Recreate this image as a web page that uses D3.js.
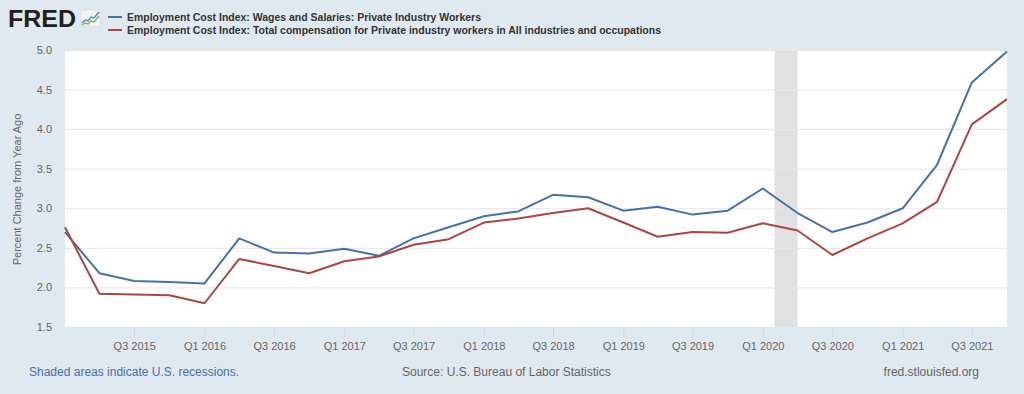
<!DOCTYPE html>
<html lang="en">
<head>
  <meta charset="UTF-8">
  <title>FRED - Employment Cost Index</title>
  <script src="https://d3js.org/d3.v7.min.js"></script>
  <style>
    html, body { margin: 0; padding: 0; background: #e1e9f0; }
    svg { display: block; font-family: "Liberation Sans", Arial, sans-serif; }
  </style>
</head>
<body>
<svg></svg>

<script>
  // quarterly observations, Q1 2015 .. Q4 2021
  const quarters = ['2015-01-01', '2015-04-01', '2015-07-01', '2015-10-01',
    '2016-01-01', '2016-04-01', '2016-07-01', '2016-10-01',
    '2017-01-01', '2017-04-01', '2017-07-01', '2017-10-01',
    '2018-01-01', '2018-04-01', '2018-07-01', '2018-10-01',
    '2019-01-01', '2019-04-01', '2019-07-01', '2019-10-01',
    '2020-01-01', '2020-04-01', '2020-07-01', '2020-10-01',
    '2021-01-01', '2021-04-01', '2021-07-01', '2021-10-01']

  // Wages and Salaries: Private Industry Workers
  const wages = [2.70, 2.18, 2.08, 2.07, 2.05, 2.62, 2.44, 2.43,
    2.49, 2.40, 2.62, 2.76, 2.90, 2.96, 3.17, 3.14,
    2.97, 3.02, 2.92, 2.97, 3.25, 2.94, 2.70, 2.82,
    3.00, 3.55, 4.59, 4.98]

  // Total compensation for Private industry workers
  const compensation = [2.76, 1.92, 1.91, 1.90, 1.80, 2.36, 2.27, 2.18,
    2.33, 2.39, 2.54, 2.61, 2.82, 2.87, 2.94, 3.00,
    2.82, 2.64, 2.70, 2.69, 2.81, 2.72, 2.41, 2.62,
    2.81, 3.08, 4.06, 4.38]

  const seriesNames = [
    'Employment Cost Index: Wages and Salaries: Private Industry Workers',
    'Employment Cost Index: Total compensation for Private industry workers in All industries and occupations'
  ]
  const seriesColors = ['#4572a7', '#aa4643']

  const yTicks = [1.5, 2.0, 2.5, 3.0, 3.5, 4.0, 4.5, 5.0]
  const xTicks = ['2015-07-01', '2016-01-01', '2016-07-01', '2017-01-01', '2017-07-01',
    '2018-01-01', '2018-07-01', '2019-01-01', '2019-07-01', '2020-01-01',
    '2020-07-01', '2021-01-01', '2021-07-01']

  const recessions = [['2020-02-01', '2020-04-01']]

  const width = 1024
  const height = 394
  const plot = { left: 65, right: 1007, top: 50, bottom: 327 }

  const parse = d3.timeParse('%Y-%m-%d')

  const svg = d3.select('svg')
    .attr('width', width)
    .attr('height', height)

  svg.append('rect')
    .attr('width', width)
    .attr('height', height)
    .attr('fill', '#e1e9f0')

  const x = d3.scaleTime()
    .domain([parse(quarters[0]), parse(quarters[quarters.length - 1])])
    .range([plot.left, plot.right])

  const y = d3.scaleLinear()
    .domain([1.5, 5.0])
    .range([plot.bottom, plot.top])

  // plot background
  svg.append('rect')
    .attr('x', plot.left)
    .attr('y', plot.top)
    .attr('width', plot.right - plot.left)
    .attr('height', plot.bottom - plot.top)
    .attr('fill', '#ffffff')

  // recession bars
  svg.append('g')
    .selectAll('rect')
    .data(recessions)
    .join('rect')
    .attr('x', d => x(parse(d[0])))
    .attr('width', d => x(parse(d[1])) - x(parse(d[0])))
    .attr('y', plot.top)
    .attr('height', plot.bottom - plot.top)
    .attr('fill', '#e1e1e1')

  // grid + y axis labels
  const yAxis = svg.append('g')
    .attr('transform', `translate(${plot.left},0)`)
    .call(d3.axisLeft(y)
      .tickValues(yTicks)
      .tickFormat(d3.format('.1f'))
      .tickSize(-(plot.right - plot.left))
      .tickPadding(13))
  yAxis.select('.domain').remove()
  yAxis.selectAll('.tick line')
    .attr('stroke', '#e6e6e6')
    .attr('stroke-width', 1)
  yAxis.selectAll('.tick text')
    .attr('fill', '#666666')
    .style('font-size', '11px')

  // x axis
  const quarterLabel = d => `Q${Math.floor(d.getMonth() / 3) + 1} ${d.getFullYear()}`
  const xAxis = svg.append('g')
    .attr('transform', `translate(0,${plot.bottom})`)
    .call(d3.axisBottom(x)
      .tickValues(xTicks.map(parse))
      .tickFormat(quarterLabel)
      .tickSize(10)
      .tickPadding(5))
  xAxis.select('.domain').remove()
  xAxis.selectAll('.tick line')
    .attr('stroke', '#ccd6eb')
  xAxis.selectAll('.tick text')
    .attr('fill', '#666666')
    .style('font-size', '11px')

  // y axis title
  svg.append('text')
    .attr('transform', `translate(21,${(plot.top + plot.bottom) / 2 + 1}) rotate(-90)`)
    .attr('text-anchor', 'middle')
    .attr('fill', '#666666')
    .style('font-size', '11px')
    .text('Percent Change from Year Ago')

  // lines
  const dates = quarters.map(parse)
  const line = d3.line()
    .x((d, i) => x(dates[i]))
    .y(d => y(d))

  svg.append('g')
    .selectAll('path')
    .data([wages, compensation])
    .join('path')
    .attr('d', line)
    .attr('fill', 'none')
    .attr('stroke', (d, i) => seriesColors[i])
    .attr('stroke-width', 2)
    .attr('stroke-linejoin', 'round')

  // FRED logo
  const logo = svg.append('g')
  logo.append('text')
    .attr('x', 8)
    .attr('y', 27)
    .attr('fill', '#231f20')
    .style('font-size', '23px')
    .style('font-weight', 'bold')
    .attr('textLength', 68)
    .attr('lengthAdjust', 'spacingAndGlyphs')
    .text('FRED')
  logo.append('rect')
    .attr('x', 81).attr('y', 10)
    .attr('width', 19).attr('height', 16)
    .attr('rx', 1)
    .attr('fill', '#f2f4f2')
    .attr('stroke', '#d6dcd8')
    .attr('stroke-width', 0.6)
  logo.append('path')
    .attr('d', 'M82,23 L85,20 L88,21 L91,17 L94,18 L99,12')
    .attr('fill', 'none').attr('stroke', '#5b86c5').attr('stroke-width', 1.4)
  logo.append('path')
    .attr('d', 'M82,25 L85,23 L88,24 L91,21 L94,22 L99,16')
    .attr('fill', 'none').attr('stroke', '#7ab063').attr('stroke-width', 1.4)

  // legend
  const legend = svg.append('g')
    .selectAll('g')
    .data(seriesNames)
    .join('g')
    .attr('transform', (d, i) => `translate(0,${17 + i * 13})`)
  legend.append('line')
    .attr('x1', 108).attr('x2', 122)
    .attr('stroke', (d, i) => seriesColors[i])
    .attr('stroke-width', 2)
  legend.append('text')
    .attr('x', 127)
    .attr('y', 4)
    .attr('fill', '#333333')
    .style('font-size', '11px')
    .style('font-weight', 'bold')
    .attr('textLength', (d, i) => i === 0 ? 354 : 534)
    .attr('lengthAdjust', 'spacingAndGlyphs')
    .text(d => d)

  // footer
  svg.append('text')
    .attr('x', 29).attr('y', 376)
    .attr('fill', '#4572a7')
    .style('font-size', '12px')
    .text('Shaded areas indicate U.S. recessions.')
  svg.append('text')
    .attr('x', 402).attr('y', 376)
    .attr('fill', '#666666')
    .style('font-size', '12px')
    .text('Source: U.S. Bureau of Labor Statistics')
  svg.append('text')
    .attr('x', 979).attr('y', 376)
    .attr('text-anchor', 'end')
    .attr('fill', '#666666')
    .style('font-size', '12px')
    .text('fred.stlouisfed.org')
</script>
</body>
</html>
